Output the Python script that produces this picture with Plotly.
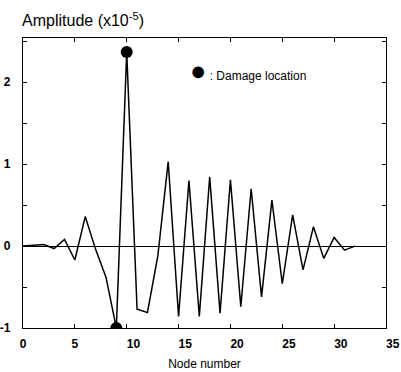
import plotly.graph_objects as go

nodes = list(range(33))
amplitude = [0.0, 0.01, 0.02, -0.03, 0.08, -0.17, 0.36, -0.04, -0.38, -1.0,
             2.37, -0.77, -0.81, -0.12, 1.03, -0.86, 0.80, -0.86, 0.845, -0.82,
             0.81, -0.74, 0.70, -0.62, 0.56, -0.46, 0.38, -0.29, 0.235, -0.15,
             0.105, -0.05, 0.0]
damage_nodes = [9, 10]
damage_amp = [amplitude[n] for n in damage_nodes]

x_ticks = [0, 5, 10, 15, 20, 25, 30, 35]
x_ticktext = ["0", "5", "\u2007\u200710", "\u2007\u200715", "\u2007\u200720",
              "\u2007\u200725", "\u2007\u200730", "\u2007\u200735"]
y_ticks = [-1, 0, 1, 2]
y_ticktext = ["-1", "0", "1", "2"]

FONT = "Liberation Sans, Arial, Helvetica, sans-serif"

fig = go.Figure()
fig.add_trace(go.Scatter(x=nodes, y=amplitude, mode="lines",
                         line=dict(color="black", width=1.5), showlegend=False))
fig.add_trace(go.Scatter(x=damage_nodes, y=damage_amp, mode="markers",
                         marker=dict(color="black", size=12),
                         name="Damage location", showlegend=False))

axis_common = dict(showline=True, linecolor="black", linewidth=1.4, mirror="ticks",
                   ticks="inside", ticklen=4, tickcolor="black", tickwidth=1.2,
                   showgrid=False, automargin=False,
                   tickfont=dict(family=FONT, size=12, color="black", weight="bold"))

fig.update_xaxes(range=[0, 35], tickvals=x_ticks, ticktext=x_ticktext, zeroline=False,
                 ticklabelstandoff=4,
                 title=dict(text="Node number", standoff=10,
                            font=dict(family=FONT, size=12, color="black")),
                 **axis_common)
fig.update_yaxes(range=[-1.0, 2.54], tickvals=y_ticks, ticktext=y_ticktext,
                 minor=dict(dtick=0.5, tick0=0, ticks="inside", ticklen=4,
                            tickcolor="black", tickwidth=1.2, showgrid=False),
                 zeroline=True, zerolinecolor="black", zerolinewidth=1.2,
                 ticklabelstandoff=9, **axis_common)

fig.update_layout(
    width=401, height=372,
    margin=dict(l=23, r=15, t=38, b=44),
    paper_bgcolor="white", plot_bgcolor="white",
    font=dict(family=FONT, color="black"),
    title=dict(text="Amplitude (x10<sup>-5</sup>)", x=0.055, xanchor="left",
               y=0.944, yanchor="middle", yref="container",
               font=dict(family=FONT, size=16, color="black")),
    annotations=[dict(
        text="<span style='font-size:27px'>\u25cf</span>\u00a0: Damage location",
        xref="paper", yref="paper", x=0.455, y=0.887,
        xanchor="left", yanchor="middle", showarrow=False,
        font=dict(family=FONT, size=12, color="black"))],
)

fig.write_html("out.html", config={"displayModeBar": False},
               post_script="document.body.style.margin='0';document.body.style.padding='0';")
